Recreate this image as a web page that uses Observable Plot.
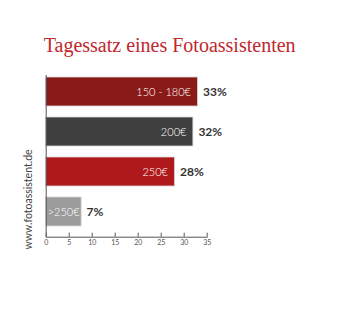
<!DOCTYPE html>
<html>
<head>
<meta charset="utf-8">
<script src="https://cdn.jsdelivr.net/npm/d3@7"></script>
<script src="https://cdn.jsdelivr.net/npm/@observablehq/plot@0.6"></script>
<style>
  html, body { margin: 0; padding: 0; background: #fff; }
  #chart svg { display: block; }
</style>
</head>
<body>
<div id="chart"></div>
<script>
const title = "Tagessatz eines Fotoassistenten";
const source = "www.fotoassistent.de";
const categories = ["150 - 180€", "200€", "250€", ">250€"];
const values = [33, 32, 28, 7.7];
const pctLabels = ["33%", "32%", "28%", "7%"];
const barColors = ["#8a1a17", "#404040", "#b0191b", "#9b9b9b"];
const xTicks = [0, 5, 10, 15, 20, 25, 30, 35];

const data = categories.map((c, i) => ({cat: c, value: values[i], pct: pctLabels[i], color: barColors[i]}));

const W = 350, H = 320;
const mTop = 66, mBottom = 83.3, mLeft = 45.7, mRight = 143.3;
const frameH = H - mTop - mBottom;

const chart = Plot.plot({
  width: W,
  height: H,
  marginTop: mTop,
  marginBottom: mBottom,
  marginLeft: mLeft,
  marginRight: mRight,
  style: {background: "#fff", overflow: "visible"},
  x: {domain: [0, 35], ticks: xTicks},
  y: {domain: categories, paddingInner: 0.286, paddingOuter: 0.246, axis: null},
  marks: [
    Plot.barX(data, {x: "value", y: "cat", fill: "color", stroke: "#d8d8d8", strokeWidth: 0.8}),
    Plot.ruleX([0], {stroke: "#555", strokeWidth: 1, insetTop: 9}),
    Plot.frame({anchor: "bottom", stroke: "#555", strokeWidth: 1}),
    Plot.ruleX(xTicks, {x: d => d, stroke: "#555", strokeWidth: 1, insetTop: frameH - 4}),
    Plot.axisX({ticks: xTicks, tickSize: 0, tickPadding: 2.5, fontSize: 7, fill: "#555", fontFamily: "Lato", label: null}),
    Plot.text(data.filter((d, i) => i < 3), {x: "value", y: "cat", text: "cat", textAnchor: "end", dx: -7, fill: "#fff", fontSize: 11, fontFamily: "Lato", fontWeight: 300}),
    Plot.text(data.filter((d, i) => i === 3), {x: "value", y: "cat", text: "cat", textAnchor: "end", dx: -2, fill: "#fff", fontSize: 11, fontFamily: "Lato", fontWeight: 300}),
    Plot.text(data, {x: "value", y: "cat", text: "pct", textAnchor: "start", dx: 5, fill: "#333", fontSize: 12, fontFamily: "Lato", fontWeight: "bold"}),
    Plot.text([title], {frameAnchor: "top-left", text: d => d, textAnchor: "start", lineAnchor: "bottom", dx: -2.5, dy: -15, fill: "#c1272d", fontSize: 20, fontFamily: "Liberation Serif"}),
    Plot.text([source], {frameAnchor: "bottom-left", text: d => d, textAnchor: "middle", lineAnchor: "middle", rotate: -90, dx: -17.2, dy: -37.7, fill: "#444", fontSize: 10.5, fontFamily: "Lato"})
  ]
});
document.getElementById("chart").appendChild(chart);
</script>
</body>
</html>
